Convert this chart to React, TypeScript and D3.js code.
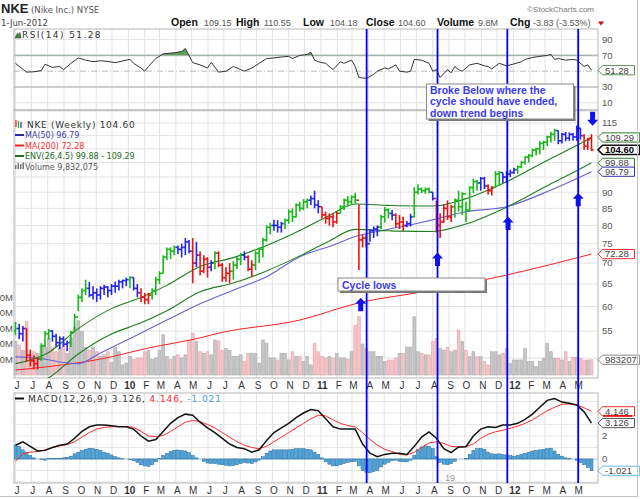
import React from 'react';
import * as d3 from 'd3';

// weekly bars, week 0 = week of 1-Jun-2009, week 156 = week ending 1-Jun-2012
const firstWeek = new Date(2009, 5, 1);

const weekHigh = [
  56.8, 56.4, 56.0, 55.5, 51.5, 50.5, 50.0, 52.7, 55.0, 55.4,
  55.2, 54.5, 54.0, 54.0, 53.2, 55.0, 58.5, 62.6, 64.0, 66.0,
  65.5, 64.5, 64.0, 64.5, 64.8, 64.5, 65.0, 65.5, 66.0, 66.0,
  66.5, 66.8, 66.5, 65.0, 64.0, 63.0, 63.0, 64.0, 66.7, 68.0,
  72.0, 74.0, 74.0, 74.5, 74.5, 75.0, 76.5, 76.0, 76.5, 75.5,
  73.0, 72.0, 71.5, 70.7, 73.0, 73.0, 70.0, 69.0, 70.0, 70.5,
  71.5, 72.6, 73.0, 72.0, 70.7, 73.0, 74.0, 76.5, 80.0, 80.7,
  81.6, 81.5, 81.0, 82.0, 84.7, 85.0, 86.5, 87.0, 87.8, 88.0,
  89.0, 90.5, 87.5, 85.4, 84.0, 83.5, 83.5, 84.0, 86.0, 88.0,
  88.8, 89.0, 89.8, 86.2, 77.5, 77.5, 79.0, 79.7, 80.0, 83.0,
  85.4, 85.0, 84.5, 83.5, 83.0, 82.5, 81.3, 83.4, 91.6, 92.6,
  91.5, 91.5, 91.5, 90.0, 87.4, 83.5, 86.2, 87.4, 86.0, 88.0,
  90.5, 90.0, 87.0, 92.0, 94.4, 94.0, 95.0, 95.0, 92.6, 92.0,
  97.0, 97.0, 96.4, 97.0, 97.5, 98.2, 99.0, 100.5, 102.2, 103.0,
  105.0, 105.4, 107.8, 108.0, 110.0, 111.5, 112.7, 112.0, 111.0, 111.5,
  111.3, 111.0, 114.0, 113.0, 110.5, 109.2, 110.55
];
const weekLow = [
  54.2, 53.5, 53.0, 49.3, 48.5, 48.0, 48.0, 49.5, 52.0, 53.4,
  53.0, 52.0, 51.6, 52.0, 51.2, 52.0, 55.0, 59.0, 61.0, 62.5,
  62.0, 61.5, 61.0, 61.5, 62.5, 62.0, 62.5, 63.0, 63.5, 64.0,
  64.5, 64.0, 63.5, 62.0, 61.0, 60.5, 60.5, 61.5, 62.5, 65.0,
  67.5, 70.7, 71.0, 72.0, 72.2, 71.4, 72.0, 72.5, 65.2, 69.0,
  67.0, 67.5, 66.5, 68.0, 68.5, 69.0, 65.5, 65.5, 65.2, 66.0,
  68.5, 69.5, 70.7, 68.0, 66.7, 68.3, 70.0, 71.4, 75.5, 77.5,
  78.5, 78.0, 78.0, 79.0, 80.5, 81.0, 82.3, 84.0, 84.5, 85.0,
  86.0, 85.0, 83.5, 82.0, 80.5, 80.0, 79.5, 80.5, 83.5, 84.5,
  85.5, 86.0, 86.5, 68.3, 74.0, 74.0, 75.5, 76.5, 77.0, 79.0,
  80.8, 82.0, 81.5, 79.5, 79.0, 78.5, 79.5, 79.7, 82.3, 89.3,
  89.7, 89.5, 89.7, 87.4, 78.0, 76.5, 80.8, 81.6, 81.0, 82.3,
  84.0, 83.0, 81.0, 84.0, 89.7, 90.5, 90.5, 91.0, 89.3, 89.0,
  91.5, 92.0, 93.0, 93.0, 95.0, 96.0, 96.1, 98.0, 99.3, 100.0,
  101.9, 102.5, 103.0, 104.5, 106.0, 107.4, 108.0, 106.7, 107.0, 107.8,
  108.0, 108.0, 108.0, 108.5, 104.5, 104.5, 104.18
];
const weekClose = [
  55.5, 54.5, 55.5, 50.5, 49.5, 49.0, 49.8, 52.2, 54.5, 55.0,
  54.0, 52.8, 53.5, 52.5, 52.8, 54.8, 57.8, 62.0, 63.5, 64.0,
  62.5, 63.0, 62.5, 64.0, 64.3, 63.5, 64.5, 64.5, 65.5, 65.8,
  66.0, 66.5, 64.0, 63.0, 62.0, 61.5, 62.5, 63.5, 66.0, 67.5,
  71.5, 73.5, 73.0, 74.0, 73.5, 74.0, 75.5, 73.0, 70.0, 72.0,
  68.0, 71.0, 69.0, 70.0, 72.5, 69.5, 66.5, 67.5, 68.0, 69.5,
  71.0, 72.0, 71.5, 68.5, 69.5, 72.5, 73.5, 76.0, 79.5, 80.0,
  80.0, 79.5, 80.5, 81.5, 84.0, 82.5, 86.0, 85.0, 87.0, 87.5,
  88.0, 86.0, 85.5, 83.0, 82.0, 82.5, 81.0, 83.5, 85.5, 87.5,
  87.0, 88.5, 87.5, 76.0, 76.5, 75.0, 78.5, 79.0, 79.5, 82.5,
  84.5, 83.5, 83.0, 80.5, 81.0, 80.0, 80.5, 82.5, 90.0, 91.0,
  90.5, 91.0, 90.0, 88.0, 80.0, 81.0, 85.0, 82.5, 85.5, 87.5,
  85.5, 89.5, 84.5, 91.5, 93.5, 93.0, 94.5, 92.0, 90.5, 91.5,
  96.0, 96.5, 95.0, 96.0, 96.5, 97.5, 98.5, 100.0, 102.0, 102.5,
  104.5, 105.0, 107.0, 107.5, 109.5, 110.5, 112.0, 108.0, 110.5, 109.0,
  110.5, 109.5, 113.0, 110.0, 106.0, 108.43, 104.60
];
const firstOpen = 55.0;
const lastOpen = 109.15;

// impulse colouring of the price bars: g = green, r = red, b = blue
const barColors = [
  'gbbrrrrggg', 'bbbbbggggg', 'bbbbbbbbbb', 'bgbbrrrggg', 'ggggbbbbrb',
  'rrrbgrrrrg', 'ggbrrggggg', 'bbbggggggg', 'bbbrrrrrgg', 'gggrrrbbbg',
  'ggbrrrbbgg', 'gggbrrrrrg', 'ggggggbbrr', 'ggbbbbgggg', 'gggggggbbb', 'bbbbrrr'
].join('');

// weekly volume, millions of shares
const volumeM = [
  21.5, 19.4, 16, 34.4, 13, 15, 14, 19, 18, 24,
  18, 15, 18, 20.6, 14, 24, 31, 35, 28, 18,
  16, 18, 15, 12, 13, 15, 8, 18, 15, 6.5,
  7.7, 12, 10, 11, 11, 15, 16, 10, 11, 16,
  26, 12, 10, 12, 13, 11, 13, 22.6, 27, 21.5,
  15, 14, 15, 13, 22.6, 22, 16, 17, 16, 12,
  12, 13, 8.6, 14, 14, 14, 7.7, 22.6, 20.6, 11,
  11, 9.7, 14, 14, 9.7, 15, 12, 12, 8.6, 12,
  6.5, 20.5, 15, 12, 11, 12, 11, 14, 11, 11,
  10, 15, 32, 37.6, 20, 17, 15, 15, 12, 12,
  8.6, 9.7, 9.7, 11, 14, 14, 18, 18, 37.6, 15,
  14, 13, 13, 21.5, 23.7, 17, 16, 18, 15, 16,
  29, 21.5, 16, 11.8, 15, 11.8, 11.8, 8.6, 6.5, 15,
  15, 13, 14, 17, 7.5, 9.7, 9.7, 9.7, 17, 8.6,
  8.6, 5.4, 8.6, 10.8, 20.4, 15, 10.8, 10.8, 9.7, 15,
  8.6, 11.4, 11.4, 10.8, 9.7, 9.7, 9.832
];

// overlays, [week, value]
const ma50Points: [number, number][] = [
  [0, 50.2], [7, 49.9], [12, 49.3], [17, 49.0], [23, 50.9], [32, 53.9], [41, 57.2],
  [50, 60.6], [59, 63.6], [68, 66.7], [77, 71.6], [86, 74.6], [92, 76.9], [100, 78.7],
  [108, 80.4], [113, 81.6], [122, 84.0], [133, 85.5], [145, 90.7], [156, 96.79]
];
const ma200Points: [number, number][] = [
  [0, 47.9], [9, 48.5], [23, 49.8], [36, 51.8], [50, 53.7], [55, 54.6], [77, 57.2],
  [93, 60.8], [110, 63.2], [133, 67.1], [156, 72.28]
];
const envMidPoints: [number, number][] = [
  [0, 46.9], [9, 48.8], [17, 53.1], [26, 57.0], [34, 59.3], [41, 61.9], [50, 66.2],
  [59, 68.3], [68, 71.3], [77, 75.2], [85, 79.3], [92, 82.6], [101, 82.2], [104, 82.1],
  [113, 82.0], [122, 84.2], [133, 89.4], [145, 97.1], [153, 102.4], [156, 104.58]
];
const envPct = 4.5;

const rsiPoints: [number, number][] = [
  [0, 60], [1, 56], [3, 48.8], [5, 49.3], [7, 50.8], [8, 58.9], [10, 54.8], [12, 56], [13, 52],
  [15, 60], [17, 66.8], [19, 64], [21, 62], [23, 63.2], [25, 62.4], [27, 60.8], [30, 64],
  [31, 64.9], [32, 60], [34, 54], [35, 50], [36, 56], [38, 66], [40, 72], [43, 73.3],
  [45, 74.8], [46, 78.8], [48, 60.8], [50, 58], [52, 54], [53, 61.3], [55, 48.8], [57, 50],
  [59, 56], [61, 52], [62, 50], [64, 54], [66, 60], [68, 66], [70, 66.8], [72, 68],
  [74, 68.8], [75, 66], [77, 70], [79, 71.2], [80, 74], [81, 64], [82, 62], [83, 60.8],
  [84, 60], [86, 52], [88, 62], [89, 60], [91, 64], [92, 56], [93, 42], [95, 40.9],
  [97, 46], [98, 50], [100, 54], [101, 52.9], [103, 58], [104, 50], [106, 48.8], [107, 50],
  [108, 64.9], [110, 64], [112, 60], [113, 50], [114, 52], [115, 42], [117, 52], [118, 48],
  [119, 56], [120, 52], [121, 50], [123, 58], [125, 60], [127, 56.8], [128, 56], [129, 52.9],
  [131, 60], [133, 56.8], [135, 59.2], [137, 62], [138, 64.9], [140, 67.3], [142, 68.8],
  [144, 70], [145, 71.2], [146, 64.9], [147, 66], [149, 64], [151, 64.9], [152, 64],
  [154, 56], [155, 58], [156, 51.28]
];

// MACD(12,26,9): line and signal read every second week, histogram every week
const macdLine = [
  1.2, 1.5, 1.1, 0.7, 0.75, 1.0, 1.2, 1.3, 1.8, 2.4, 2.8, 2.95, 2.95, 2.9, 2.8, 2.8,
  2.6, 2.0, 1.55, 1.7, 2.4, 3.1, 3.6, 3.9, 3.8, 3.2, 2.7, 2.3, 1.8, 1.3, 1.0, 0.9,
  0.6, 0.8, 1.6, 2.3, 2.7, 3.1, 3.6, 4.0, 4.3, 4.2, 3.5, 2.8, 2.6, 2.6, 2.6, 1.3,
  0.5, 0.2, 0.4, 0.5, 0.5, 0.4, 1.1, 1.9, 2.35, 1.8, 0.9, 0.55, 1.05, 1.07, 2.0, 2.6,
  2.8, 2.75, 2.96, 2.96, 3.1, 3.45, 3.9, 4.5, 5.1, 5.25, 4.95, 4.85, 4.7, 4.1, 3.126
];
const signalLine = [
  -0.2, 0.45, 0.6, 0.65, 0.8, 1.0, 1.15, 1.25, 1.5, 1.9, 2.3, 2.6, 2.75, 2.8, 2.82, 2.82,
  2.75, 2.4, 2.0, 1.95, 2.05, 2.4, 2.8, 3.2, 3.35, 3.25, 3.0, 2.7, 2.3, 1.9, 1.5, 1.2,
  1.0, 0.9, 1.1, 1.5, 1.9, 2.3, 2.7, 3.1, 3.5, 3.8, 3.75, 3.4, 3.1, 2.9, 2.8, 2.3,
  1.7, 1.2, 0.85, 0.65, 0.4, 0.35, 0.6, 1.0, 1.4, 1.5, 1.35, 1.1, 1.05, 1.07, 1.3, 1.8,
  2.15, 2.37, 2.5, 2.67, 2.85, 3.1, 3.4, 3.8, 4.2, 4.5, 4.75, 4.78, 4.7, 4.45, 4.146
];
const macdHist = [
  1.2, 1.1, 0.8, 0.6, 0.3, 0.1, 0.0, -0.05, -0.1, 0.05,
  0.05, 0.05, 0.05, 0.1, 0.15, 0.25, 0.45, 0.6, 0.75, 0.85,
  0.93, 0.9, 0.85, 0.75, 0.6, 0.5, 0.35, 0.2, 0.1, 0.02,
  0.0, -0.05, -0.15, -0.3, -0.5, -0.6, -0.65, -0.5, -0.25, 0.05,
  0.3, 0.5, 0.65, 0.75, 0.78, 0.75, 0.7, 0.55, 0.3, 0.1,
  0.0, -0.2, -0.35, -0.4, -0.4, -0.45, -0.5, -0.55, -0.6, -0.55,
  -0.5, -0.4, -0.3, -0.35, -0.4, -0.25, -0.1, 0.2, 0.5, 0.7,
  0.8, 0.8, 0.8, 0.8, 0.8, 0.85, 0.9, 0.9, 0.9, 0.85,
  0.8, 0.6, 0.4, 0.1, -0.25, -0.45, -0.6, -0.6, -0.5, -0.4,
  -0.3, -0.25, -0.2, -0.6, -1.0, -1.15, -1.2, -1.1, -1.0, -0.7,
  -0.45, -0.3, -0.15, -0.1, -0.2, -0.25, -0.25, -0.1, 0.3, 0.8,
  1.05, 1.13, 1.1, 0.9, 0.2, -0.3, -0.45, -0.5, -0.4, -0.2,
  0.0, 0.0, 0.05, 0.4, 0.75, 0.9, 0.93, 0.85, 0.6, 0.45,
  0.4, 0.45, 0.4, 0.35, 0.3, 0.25, 0.3, 0.4, 0.5, 0.6,
  0.7, 0.75, 0.8, 0.85, 0.9, 0.93, 0.7, 0.4, 0.25, 0.1,
  0.05, 0.0, -0.1, -0.3, -0.5, -0.75, -1.021
];

// annotations
const cycleWeeks = [95.1, 114.3, 133.2, 152.4];
const upArrowWeeks = [93.5, 114.3, 133.4, 152.4];
const upArrowPrices = [61.9, 72.7, 82.6, 89.8];
const downArrow: [number, number] = [156.3, 113.9];
const noteLines = ['Broke Below where the', 'cycle should have ended,', 'down trend begins'];

// axis labels that are not hidden behind the value tags
const priceTicks = [55, 60, 65, 70, 75, 80, 85, 90, 115];
const priceGrid = [50, 55, 60, 65, 70, 75, 80, 85, 90, 95, 100, 105, 110, 115, 120];
const volTicks = [10, 20, 30, 40, 50];
const rsiTicks = [90, 70, 30, 10];
const macdGrid = [-2, -1, 0, 1, 2, 3, 4, 5];
const macdTicks = [2, 0];

const L = 14, R = 598;
const RSI_T = 29, RSI_B = 110, MAIN_T = 110, MAIN_B = 378, MACD_T = 393, MACD_B = 483;
const SANS = 'Liberation Sans, Arial, sans-serif';
const VERD = 'DejaVu Sans, Verdana, sans-serif';
const BAR_COL: Record<string, string> = { g: '#17b817', r: '#f01010', b: '#2323f5' };

function Tag({ y, text, color, bold = false }: { y: number; text: string; color: string; bold?: boolean }) {
  const w = text.length * 5.2 + 6;
  const h = 4.6;
  const d = `M${R},${y} L${R + 4.5},${y - h} L${R + 4.5 + w},${y - h} L${R + 4.5 + w},${y + h} L${R + 4.5},${y + h} Z`;
  return (
    <g>
      <path d={d} fill="#fff" stroke={color} strokeWidth={bold ? 1.6 : 1} />
      <text x={R + 7} y={y} dy="0.35em" fontFamily={SANS} fontSize={9.5} fontWeight={bold ? 'bold' : 'normal'} fill={bold ? '#000' : '#444'}>{text}</text>
    </g>
  );
}

export default function App() {
  const n = weekClose.length;
  const x = d3.scaleLinear().domain([0, n - 1]).range([15.5, 591.5]);
  const xDate = d3.scaleTime().domain([firstWeek, d3.timeDay.offset(firstWeek, 7 * (n - 1))]).range([15.5, 591.5]);
  const yPrice = d3.scaleLog().domain([65, 115]).range([284, 123.1]);
  const yVol = d3.scaleLinear().domain([0, 10]).range([375, 359.5]);
  const yRsi = d3.scaleLinear().domain([30, 70]).range([87, 55.4]);
  const yMacd = d3.scaleLinear().domain([0, 2]).range([459, 436]);

  const months = d3.timeMonth.range(new Date(2009, 5, 1), new Date(2012, 5, 1));
  const monthLabel = (m: Date) => (m.getMonth() === 0 ? d3.timeFormat('%y')(m) : d3.timeFormat('%b')(m).charAt(0));

  const priceLine = d3.line<[number, number]>().x(d => x(d[0])).y(d => yPrice(d[1])).curve(d3.curveMonotoneX);
  const envUpper = envMidPoints.map(([w, v]) => [w, v * (1 + envPct / 100)] as [number, number]);
  const envLower = envMidPoints.map(([w, v]) => [w, v * (1 - envPct / 100)] as [number, number]);

  const rsiLine = d3.line<[number, number]>().x(d => x(d[0])).y(d => yRsi(d[1]));
  const rsiArea = d3.area<[number, number]>().x(d => x(d[0])).y0(yRsi(70)).y1(d => yRsi(d[1]));

  const macdPts = macdLine.map((v, i) => [i * 2, v] as [number, number]);
  const sigPts = signalLine.map((v, i) => [i * 2, v] as [number, number]);
  const macdPath = d3.line<[number, number]>().x(d => x(d[0])).y(d => yMacd(d[1]));

  const upArrow = (cx: number, ty: number) =>
    `M${cx},${ty} L${cx + 5.5},${ty + 6} L${cx + 2.5},${ty + 6} L${cx + 2.5},${ty + 13.5} L${cx - 2.5},${ty + 13.5} L${cx - 2.5},${ty + 6} L${cx - 5.5},${ty + 6} Z`;
  const downArrowPath = (cx: number, by: number) =>
    `M${cx},${by} L${cx + 5.5},${by - 6} L${cx + 2.5},${by - 6} L${cx + 2.5},${by - 14} L${cx - 2.5},${by - 14} L${cx - 2.5},${by - 6} L${cx - 5.5},${by - 6} Z`;

  const last = n - 1;

  return (
    <div style={{ position: 'absolute', left: 0, top: 0 }}>
      <svg width={640} height={499} viewBox="0 0 640 499" style={{ display: 'block', background: '#fff' }}>
        <defs>
          <clipPath id="rsiClip"><rect x={L} y={RSI_T} width={R - L} height={RSI_B - RSI_T} /></clipPath>
          <clipPath id="rsiHigh"><rect x={L} y={RSI_T} width={R - L} height={yRsi(70) - RSI_T} /></clipPath>
          <clipPath id="mainClip"><rect x={L} y={MAIN_T} width={R - L} height={MAIN_B - MAIN_T} /></clipPath>
          <clipPath id="macdClip"><rect x={L} y={MACD_T} width={R - L} height={MACD_B - MACD_T} /></clipPath>
        </defs>

        {/* header */}
        <text x={1} y={13} fontFamily={SANS} fontSize={13} fontWeight="bold" fill="#222">NKE</text>
        <text x={31} y={13} fontFamily={VERD} fontSize={8.5} fill="#555">(Nike Inc.) NYSE</text>
        <text x={1} y={25.5} fontFamily={VERD} fontSize={8.5} fill="#444">1-Jun-2012</text>
        <text x={594} y={12} textAnchor="end" fontFamily={SANS} fontSize={8} fill="#777">©StockCharts.com</text>
        {[
          ['Open', 171, true], ['109.15', 204, false], ['High', 236, true], ['110.55', 264, false],
          ['Low', 303, true], ['104.18', 330, false], ['Close', 366, true], ['104.60', 398, false],
          ['Volume', 437, true], ['9.8M', 478, false], ['Chg', 510, true], ['-3.83 (-3.53%)', 533, false]
        ].map(([t, px, b]) => (
          <text key={String(t)} x={px as number} y={25.5} fontFamily={SANS} fontSize={b ? 10.5 : 9}
            fontWeight={b ? 'bold' : 'normal'} fill={b ? '#111' : '#555'}>{t as string}</text>
        ))}
        <path d="M598,21.5 L604,21.5 L601,25.5 Z" fill="#e00000" />

        {/* grid */}
        {months.map(m => (
          <g key={+m}>
            <line x1={xDate(m)} x2={xDate(m)} y1={RSI_T} y2={MAIN_B} stroke="#e2e2e2" />
            <line x1={xDate(m)} x2={xDate(m)} y1={MACD_T} y2={MACD_B} stroke="#e2e2e2" />
          </g>
        ))}
        <line x1={L} x2={R} y1={yRsi(90)} y2={yRsi(90)} stroke="#e2e2e2" />
        <line x1={L} x2={R} y1={yRsi(10)} y2={yRsi(10)} stroke="#e2e2e2" />
        <line x1={L} x2={R} y1={yRsi(70)} y2={yRsi(70)} stroke="#bdbdbd" strokeWidth={1.6} />
        <line x1={L} x2={R} y1={yRsi(30)} y2={yRsi(30)} stroke="#bdbdbd" strokeWidth={1.6} />
        <line x1={L} x2={R} y1={yRsi(50)} y2={yRsi(50)} stroke="#bbbbbb" strokeWidth={1} strokeDasharray="6,2,1,2" />
        {priceGrid.map(p => (
          <line key={p} x1={L} x2={R} y1={yPrice(p)} y2={yPrice(p)} stroke="#e2e2e2" />
        ))}
        {macdGrid.map(v => (
          <line key={v} x1={L} x2={R} y1={yMacd(v)} y2={yMacd(v)} stroke="#e6e6e6" />
        ))}

        {/* panel frames */}
        <rect x={L} y={RSI_T} width={R - L} height={RSI_B - RSI_T} fill="none" stroke="#b5b5b5" />
        <rect x={L} y={MAIN_T} width={R - L} height={MAIN_B - MAIN_T} fill="none" stroke="#b5b5b5" />
        <rect x={L} y={MACD_T} width={R - L} height={MACD_B - MACD_T} fill="none" stroke="#b5b5b5" />

        {/* RSI */}
        <g clipPath="url(#rsiClip)">
          <path d={rsiArea(rsiPoints) || ''} fill="#5f9f5f" clipPath="url(#rsiHigh)" />
          <path d={rsiLine(rsiPoints) || ''} fill="none" stroke="#333" strokeWidth={1} />
        </g>
        <path d="M15,38 L17.5,33 L19,35.5 L20,32.5 L21,38 Z" fill="#3c8a3c" stroke="#2a2a2a" strokeWidth={0.5} />
        <text x={22} y={38} fontFamily={VERD} fontSize={9} letterSpacing={1.4} fill="#333">RSI(14) 51.28</text>

        {/* volume */}
        <g clipPath="url(#mainClip)">
          {volumeM.map((v, i) => {
            const down = i > 0 && weekClose[i] < weekClose[i - 1];
            return (
              <rect key={i} x={x(i) - 1.4} width={2.8} y={yVol(v)} height={yVol(0) - yVol(v)}
                fill={down ? '#f5c3c8' : '#c6c6c6'} stroke={down ? '#e8a4ab' : '#aaaaaa'} strokeWidth={0.6} />
            );
          })}
          {/* overlays */}
          <path d={priceLine(ma200Points) || ''} fill="none" stroke="#ff2020" strokeWidth={1} />
          <path d={priceLine(ma50Points) || ''} fill="none" stroke="#6464d2" strokeWidth={1.1} />
          <path d={priceLine(envUpper) || ''} fill="none" stroke="#1e7f1e" strokeWidth={1.1} />
          <path d={priceLine(envLower) || ''} fill="none" stroke="#1e7f1e" strokeWidth={1.1} />
          {/* price bars */}
          {weekClose.map((c, i) => {
            const open = i === 0 ? firstOpen : i === last ? lastOpen : weekClose[i - 1];
            const col = BAR_COL[barColors[i]];
            const cx = x(i);
            return (
              <g key={i} stroke={col} strokeWidth={1.6}>
                <line x1={cx} x2={cx} y1={yPrice(weekHigh[i])} y2={yPrice(weekLow[i])} />
                <line x1={cx - 2} x2={cx} y1={yPrice(open)} y2={yPrice(open)} />
                <line x1={cx} x2={cx + 2} y1={yPrice(c)} y2={yPrice(c)} />
              </g>
            );
          })}
        </g>

        {/* main legend */}
        <g fontFamily={VERD}>
          <line x1={16} x2={16} y1={120} y2={127} stroke="#f01010" strokeWidth={1.2} />
          <line x1={18.5} x2={18.5} y1={121} y2={128} stroke="#17b817" strokeWidth={1.2} />
          <line x1={21} x2={21} y1={122} y2={128} stroke="#2323f5" strokeWidth={1.2} />
          <text x={27} y={127.5} fontSize={9} letterSpacing={0.7} fill="#333">NKE (Weekly) 104.60</text>
          <line x1={15} x2={24} y1={135} y2={135} stroke="#2b2ba0" strokeWidth={2} />
          <text x={25} y={138} fontSize={8} fill="#3a3aa8">MA(50) 96.79</text>
          <line x1={15} x2={24} y1={145.5} y2={145.5} stroke="#ff2020" strokeWidth={2} />
          <text x={25} y={148.5} fontSize={8} fill="#ff3030">MA(200) 72.28</text>
          <line x1={15} x2={24} y1={156} y2={156} stroke="#1e6f1e" strokeWidth={2} />
          <text x={25} y={159} fontSize={8} fill="#226a22">ENV(26,4.5) 99.88 - 109.29</text>
          <rect x={15} y={165} width={1.5} height={4} fill="#777" />
          <rect x={17.5} y={163} width={1.5} height={6} fill="#777" />
          <rect x={20} y={164} width={1.5} height={5} fill="#777" />
          <rect x={22.5} y={162.5} width={1.5} height={6.5} fill="#777" />
          <text x={25} y={169.5} fontSize={8} fill="#555">Volume 9,832,075</text>
        </g>

        {/* MACD */}
        <line x1={L} x2={R} y1={yMacd(0)} y2={yMacd(0)} stroke="#a9c8dd" strokeWidth={1.2} />
        <g clipPath="url(#macdClip)">
          {macdHist.map((v, i) => (
            <rect key={i} x={x(i) - 1.5} width={3} y={Math.min(yMacd(v), yMacd(0))} height={Math.abs(yMacd(v) - yMacd(0))}
              fill="#4ea6dc" stroke="#24679a" strokeWidth={0.5} />
          ))}
          <path d={macdPath(sigPts) || ''} fill="none" stroke="#ff2a2a" strokeWidth={1} />
          <path d={macdPath(macdPts) || ''} fill="none" stroke="#111" strokeWidth={1.5} />
        </g>
        <line x1={15} x2={24} y1={398.5} y2={398.5} stroke="#111" strokeWidth={2} />
        <text x={28} y={401.5} fontFamily={VERD} fontSize={9} letterSpacing={0.9}>
          <tspan fill="#333">MACD(12,26,9) 3.126, </tspan>
          <tspan fill="#ff2a2a">4.146, </tspan>
          <tspan fill="#3fa0d8">-1.021</tspan>
        </text>
        <text x={445} y={481} fontFamily={SANS} fontSize={9} fill="#9a9a9a">19</text>

        {/* x axes */}
        {months.map(m => {
          const yr = m.getMonth() === 0;
          return (
            <g key={'l' + +m} fontFamily={SANS} fontSize={10} fontWeight={yr ? 'bold' : 'normal'} fill="#333" textAnchor="middle">
              <text x={xDate(m) + 1.5} y={389}>{monthLabel(m)}</text>
              <text x={xDate(m) + 1.5} y={494}>{monthLabel(m)}</text>
            </g>
          );
        })}

        {/* right axes */}
        <g fontFamily={SANS} fontSize={9.5} fill="#555">
          {rsiTicks.map(t => <text key={t} x={602} y={yRsi(t)} dy="0.35em">{t}</text>)}
          {priceTicks.map(t => <text key={t} x={602} y={yPrice(t)} dy="0.35em">{t}</text>)}
          {macdTicks.map(t => <text key={t} x={602} y={yMacd(t)} dy="0.35em">{t}</text>)}
        </g>
        {/* left volume axis, cut by the picture edge as in the source */}
        <g fontFamily={SANS} fontSize={9.5} fill="#555" textAnchor="end">
          {volTicks.map(t => <text key={t} x={13} y={yVol(t)} dy="0.35em">{t}M</text>)}
        </g>

        {/* value tags */}
        <Tag y={yRsi(51.28)} text="51.28" color="#5a8f5a" />
        <Tag y={yPrice(109.29)} text="109.29" color="#2a7d2a" />
        <Tag y={yPrice(104.6)} text="104.60" color="#111" bold />
        <Tag y={yPrice(99.88)} text="99.88" color="#2a7d2a" />
        <Tag y={yPrice(96.79)} text="96.79" color="#3333aa" />
        <Tag y={yPrice(72.28)} text="72.28" color="#f03030" />
        <Tag y={yVol(9.832075)} text="983207" color="#8a8a8a" />
        <Tag y={yMacd(4.146)} text="4.146" color="#f03030" />
        <line x1={603} x2={632} y1={yMacd(4.146) + 4.6} y2={yMacd(4.146) + 4.6} stroke="#e00000" strokeWidth={1.5} />
        <Tag y={yMacd(3.126)} text="3.126" color="#555" />
        <Tag y={yMacd(-1.021)} text="-1.021" color="#6ab8e6" />

        {/* cycle lines */}
        {cycleWeeks.map(w => (
          <line key={w} x1={x(w)} x2={x(w)} y1={RSI_T} y2={MACD_B} stroke="#0000ff" strokeWidth={1.8} />
        ))}
        {upArrowWeeks.map((w, i) => (
          <path key={w} d={upArrow(x(w), yPrice(upArrowPrices[i]))} fill="#1010ee" />
        ))}
        <path d={downArrowPath(x(downArrow[0]), yPrice(downArrow[1]))} fill="#1010ee" />

        {/* notes */}
        <rect x={340} y={280} width={147} height={13} fill="#777" />
        <rect x={338} y={278} width={147} height={13} fill="#fff" stroke="#888" />
        <text x={342} y={288.5} fontFamily={SANS} fontSize={10.5} fontWeight="bold" fill="#3a3af0">Cycle lows</text>

        <rect x={428.5} y={86} width={147} height={35} fill="#777" />
        <rect x={426.5} y={84} width={147} height={35} fill="#fff" stroke="#888" />
        {noteLines.map((t, i) => (
          <text key={t} x={430} y={93.5 + i * 11.8} fontFamily={SANS} fontSize={10.5} fontWeight="bold" fill="#3a3af0">{t}</text>
        ))}

        {/* outer frame */}
        <line x1={637.5} x2={637.5} y1={0} y2={497} stroke="#c4c4c4" />
        <line x1={0} x2={637.5} y1={496.5} y2={496.5} stroke="#c4c4c4" />
      </svg>
    </div>
  );
}
